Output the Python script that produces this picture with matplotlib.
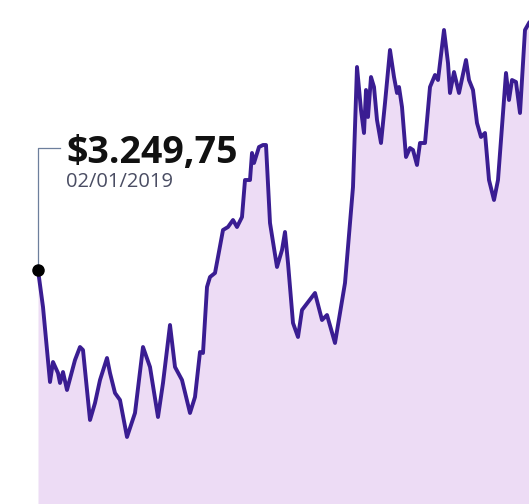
import matplotlib.pyplot as plt

# serie (posicion horizontal, nivel)
dias = [38, 43, 50, 53, 58, 60, 63, 67, 75, 80, 83, 90, 95, 100, 107, 110, 115, 120, 127,
        135, 143, 150, 158, 163, 170, 175, 182, 190, 195, 200, 203, 207, 210, 215, 218,
        223, 228, 233, 237, 242, 245, 250, 252, 254, 259, 263, 266, 270, 277, 282, 285,
        288, 293, 298, 302, 315, 322, 327, 335, 345, 350, 353, 357, 361, 364, 366, 368,
        371, 374, 377, 381, 385, 390, 394, 397, 399, 402, 406, 410, 413, 417, 420, 425,
        430, 435, 438, 444, 448, 450, 454, 459, 466, 469, 473, 477, 481, 485, 489, 494,
        498, 506, 509, 512, 516, 520, 525, 529]
nivel = [234, 197, 122, 142, 131, 121, 132, 114, 144, 157, 154, 84, 101, 124, 146, 131,
         111, 104, 67, 91, 157, 137, 87, 121, 179, 137, 124, 91, 107, 152, 151, 217, 227,
         231, 247, 274, 277, 284, 277, 287, 324, 324, 351, 341, 357, 359, 359, 281, 237,
         254, 272, 241, 181, 167, 194, 211, 184, 189, 161, 221, 281, 317, 437, 394, 371,
         414, 387, 427, 417, 384, 361, 401, 454, 427, 411, 417, 397, 347, 356, 354, 339,
         361, 361, 417, 429, 424, 474, 441, 411, 432, 411, 444, 424, 414, 381, 367, 371,
         324, 304, 324, 431, 404, 424, 422, 391, 474, 481]

precio = "$3.249,75"
fecha = "02/01/2019"

fig = plt.figure(figsize=(5.29, 5.04), dpi=100)
ax = fig.add_axes([0, 0, 1, 1])
ax.set_xlim(0, 529)
ax.set_ylim(0, 504)
ax.axis("off")

ax.fill_between(dias, nivel, 0, color="#eddcf5", lw=0)
ax.plot(dias, nivel, color="#3a1d92", lw=2.8, solid_joinstyle="round")

# marcador del primer valor
ax.plot([dias[0], dias[0], 60], [nivel[0], 356, 356], color="#6d7f9c", lw=0.9)
ax.plot(dias[0], nivel[0], "o", color="black", ms=8)

ax.text(66, 341, precio, fontsize=27, fontweight="bold", family="Open Sans",
        color="#111111", va="baseline")
ax.text(66, 317, fecha, fontsize=14.5, family="Open Sans", color="#4a4d63", va="baseline")

fig.savefig("out.png", dpi=100)
